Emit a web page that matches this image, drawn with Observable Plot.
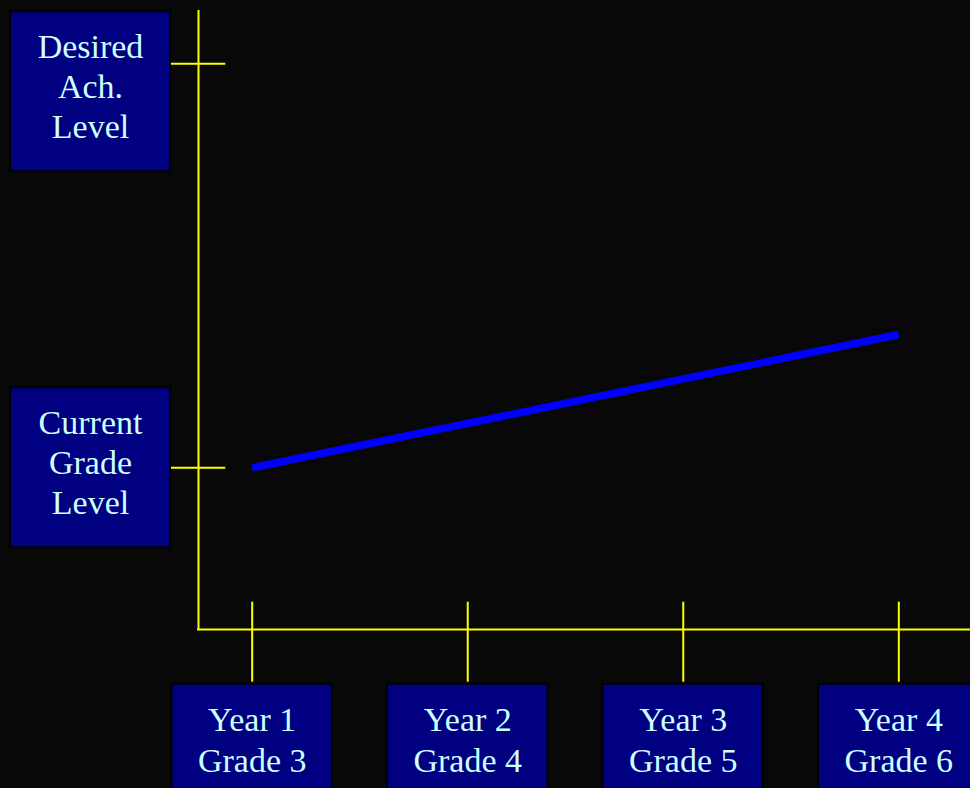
<!DOCTYPE html>
<html><head><meta charset="utf-8">
<script src="https://cdn.jsdelivr.net/npm/d3@7"></script>
<script src="https://cdn.jsdelivr.net/npm/@observablehq/plot@0.6"></script>
<style>
html,body{margin:0;padding:0;background:#080808;}
#chart{width:970px;height:788px;overflow:hidden;}
</style></head><body><div id="chart"></div>
<script>
// ---- data ----
const years = [1, 2, 3, 4];
const yearLabels = ["Year 1\nGrade 3", "Year 2\nGrade 4", "Year 3\nGrade 5", "Year 4\nGrade 6"];
const levels = [0, 1];
const levelLabels = ["Current\nGrade\nLevel", "Desired\nAch.\nLevel"];
const progressYears = [1, 4];
const progressLevels = [0, 0.33];

// ---- layout (pixels) ----
const W = 970, H = 788;
const xRange = [251.7, 898.3];   // pixel positions of first and last year
const yRange = [467.3, 63.3];    // pixel positions of level 0 and level 1
const originPx = [198, 629];     // axis corner
const levelBoxShift = [0, 28];   // box centre offset from its tick (px)
const yellow = "#ffff00", navy = "#000080", textColor = "#ccffff";
const font = "'Liberation Serif', 'Times New Roman', serif";
const fs = 34;

const xs = d3.scaleLinear([1, 4], xRange);
const ys = d3.scaleLinear([0, 1], yRange);
const originYear = xs.invert(originPx[0]);
const originLevel = ys.invert(originPx[1]);

const marks = [
  // axes
  Plot.ruleX([originYear], {stroke: yellow, strokeWidth: 2, insetTop: 10, insetBottom: H - originPx[1] - 1}),
  Plot.ruleY([originLevel], {stroke: yellow, strokeWidth: 2, insetLeft: originPx[0] - 1}),
  // ticks
  Plot.ruleY(levels, {stroke: yellow, strokeWidth: 2, insetLeft: 170, insetRight: W - 225.3}),
  Plot.ruleX(years, {stroke: yellow, strokeWidth: 2, insetTop: 601.7, insetBottom: H - 681.7}),
  // year boxes
  Plot.rect(years, {x1: d => d - 0.5, x2: d => d + 0.5, fill: navy, stroke: "#000", strokeWidth: 2,
    insetLeft: 27.6, insetRight: 27.6, insetTop: 683.7, insetBottom: -6}),
  Plot.text(years, {x: d => d, text: (d, i) => yearLabels[i], frameAnchor: "top", dy: 738.1,
    lineAnchor: "middle", lineHeight: 41 / fs, fill: textColor, fontSize: fs, fontFamily: font})
];
levels.forEach((lv, i) => {
  const s = levelBoxShift[i];
  marks.push(
    Plot.rect([lv], {y1: d => d - 0.5, y2: d => d + 0.5, fill: navy, stroke: "#000", strokeWidth: 2,
      insetLeft: 10, insetRight: W - 170, insetTop: 122 + s, insetBottom: 122 - s}),
    Plot.text([lv], {y: d => d, text: () => levelLabels[i], frameAnchor: "left", textAnchor: "middle",
      dx: 90, dy: s - 6.5,
      lineAnchor: "middle", lineHeight: 40 / fs, fill: textColor, fontSize: fs, fontFamily: font})
  );
});
// progress line
marks.push(Plot.line(progressYears, {x: d => d, y: (d, i) => progressLevels[i],
  stroke: "#0000ff", strokeWidth: 7.5, strokeLinecap: "butt"}));

const chart = Plot.plot({
  width: W, height: H,
  margin: 0,
  x: {type: "linear", domain: [1, 4], range: xRange, axis: null},
  y: {type: "linear", domain: [0, 1], range: yRange, axis: null},
  style: {background: "#080808", overflow: "hidden"},
  marks
});
document.getElementById("chart").appendChild(chart);
</script>
</body></html>
